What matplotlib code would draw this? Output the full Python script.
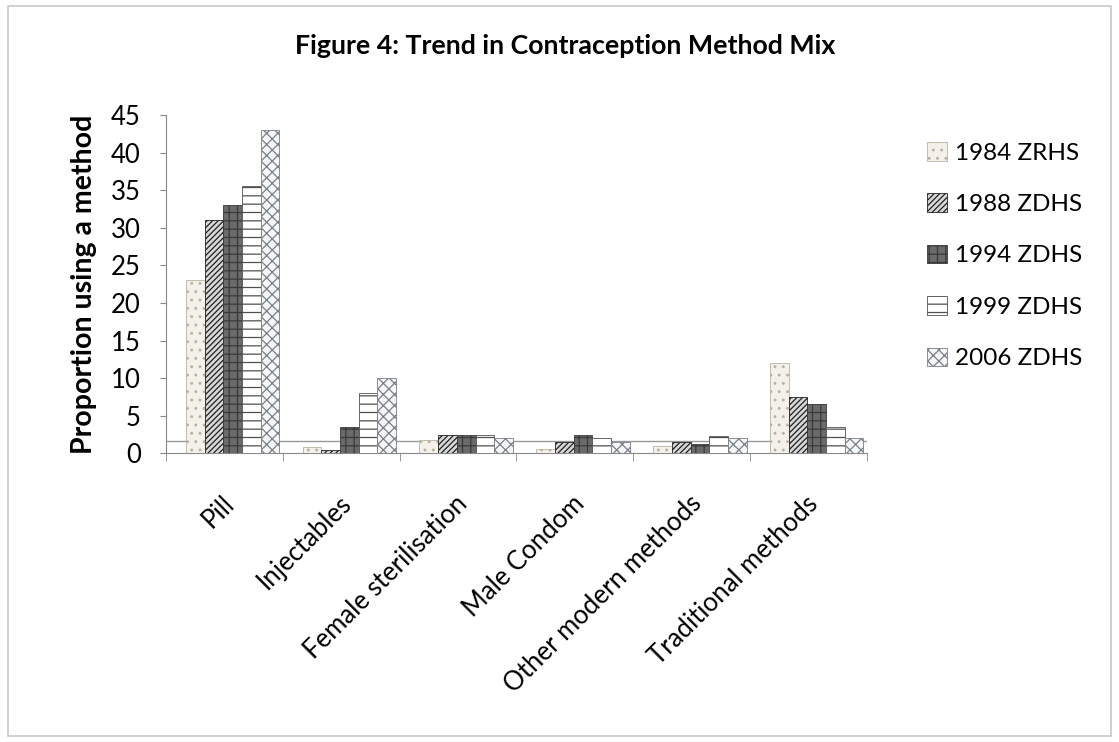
import matplotlib
matplotlib.use("Agg")
import matplotlib.pyplot as plt
from matplotlib.patches import Rectangle
import matplotlib.transforms as mtransforms
import numpy as np

plt.rcParams['font.family'] = ['Lato', 'DejaVu Sans']
plt.rcParams['hatch.linewidth'] = 0.9

categories = ["Pill", "Injectables", "Female sterilisation", "Male Condom",
              "Other modern methods", "Traditional methods"]
series_names = ["1984 ZRHS", "1988 ZDHS", "1994 ZDHS", "1999 ZDHS", "2006 ZDHS"]
v1984 = [23, 0.8, 1.8, 0.6, 1.0, 12]
v1988 = [31, 0.5, 2.5, 1.5, 1.5, 7.5]
v1994 = [33, 3.5, 2.5, 2.5, 1.2, 6.5]
v1999 = [35.5, 8, 2.5, 2.0, 2.3, 3.5]
v2006 = [43, 10, 2.0, 1.5, 2.0, 2.0]
series = [v1984, v1988, v1994, v1999, v2006]
yticks = [0, 5, 10, 15, 20, 25, 30, 35, 40, 45]

faces = ['#f4f1ea', '#d8d8d8', '#6a6a6a', '#ffffff', '#f4f6f8']
edges = ['#b9b2a3', '#202020', '#3a3a3a', '#505050', '#7a7f88']
hatches = ['..', '//////', '++', '--', 'xxx']

fig = plt.figure(figsize=(11.19, 7.42), dpi=100)
fig.patches.append(Rectangle((0.007, 0.008), 0.986, 0.984, transform=fig.transFigure,
                             fill=False, edgecolor='#c8c8c8', linewidth=1.2))
ax = fig.add_axes([0.1483, 0.389, 0.6265, 0.456])

x = np.arange(len(categories))
w = 0.16
depth = 0.07  # 3D depth shift of bars
for i, (vals, name) in enumerate(zip(series, series_names)):
    ax.bar(x - 0.4 + depth + w * (i + 0.5), vals, width=w, color=faces[i], edgecolor=edges[i],
           hatch=hatches[i], linewidth=0.6, label=name, zorder=3)

ax.set_xlim(-0.5, len(categories) - 0.5)
ax.set_ylim(0, 45)
ax.set_yticks(yticks)
ax.tick_params(axis='y', labelsize=18.5, length=4, color='#888888', pad=14)
ax.set_xticks(x)
ax.set_xticklabels(categories, rotation=45, ha='right', rotation_mode='anchor', fontsize=18.5)
ax.tick_params(axis='x', length=0, pad=27)
shift = mtransforms.ScaledTranslation(-3 / 100, 0, fig.dpi_scale_trans)
for lab in ax.get_xticklabels():
    lab.set_transform(lab.get_transform() + shift)
ax.set_xticks(np.arange(-0.5, len(categories)), minor=True)
ax.tick_params(axis='x', which='minor', length=6, color='#888888')
for s in ['top', 'right']:
    ax.spines[s].set_visible(False)
ax.spines['left'].set_color('#888888')
ax.spines['bottom'].set_color('#888888')
ax.axhline(1.6, color='#999999', linewidth=1.0, zorder=1)

ax.set_ylabel("Proportion using a method", fontsize=20.5, fontweight='bold', labelpad=10)
fig.text(0.505, 0.938, "Figure 4: Trend in Contraception Method Mix", ha='center',
         va='center', fontsize=19.3, fontweight='bold')

leg = ax.legend(loc='upper left', bbox_to_anchor=(1.055, 0.985), frameon=False,
                fontsize=17.5, handlelength=0.8, handleheight=0.8, handletextpad=0.35,
                labelspacing=1.22)

fig.savefig("out.png", dpi=100)
